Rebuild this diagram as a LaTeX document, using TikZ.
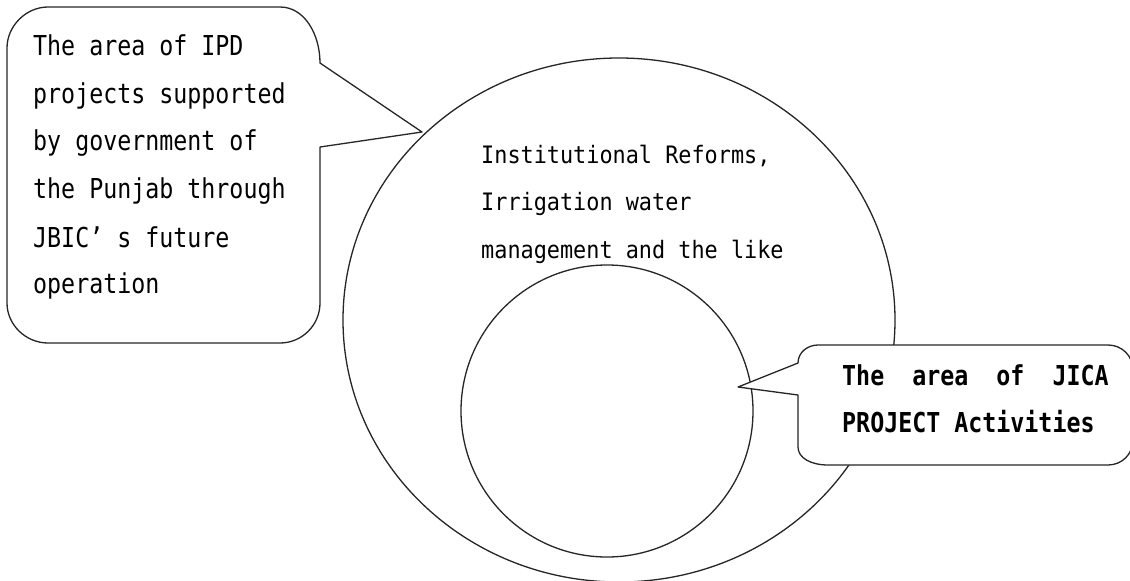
\documentclass[tikz,border=0pt]{standalone}
\usepackage{fontspec}
\usetikzlibrary{shapes.geometric}
\newfontfamily\gfont[FakeStretch=0.85]{DejaVu Sans Mono}
\newfontfamily\mfont[FakeStretch=0.91]{DejaVu Sans Mono}
\begin{document}
\begin{tikzpicture}[x=1pt,y=-1pt,
  shapeline/.style={draw=black!85, line width=1.3pt, line join=round},
  calltext/.style={anchor=base west, inner sep=0pt, font=\gfont\fontsize{27.4}{30}\selectfont},
  jicatext/.style={anchor=base west, inner sep=0pt, font=\gfont\bfseries\fontsize{27.4}{30}\selectfont},
  midtext/.style={anchor=base west, inner sep=0pt, font=\mfont\fontsize{24}{28}\selectfont}]
\useasboundingbox (0,0) rectangle (1130,581);
\fill[white] (0,0) rectangle (1130,581);
% circles
\node[shapeline, ellipse, minimum width=552pt, minimum height=524pt, inner sep=0pt] (big) at (619,320) {};
\node[shapeline, circle, minimum size=292pt, inner sep=0pt] (inner) at (607,411) {};
% left callout
\draw[shapeline, fill=white] (48,7) -- (280,7) .. controls (305,7) and (320,35) .. (320,63)
  -- (422,132) -- (320,147) -- (320,303) .. controls (320,325) and (302,343) .. (280,343)
  -- (48,343) .. controls (26,343) and (7,325) .. (7,303) -- (7,48) .. controls (7,26) and (26,7) .. (48,7) -- cycle;
% JICA callout
\draw[shapeline, fill=white] (818,345) -- (1108,345) .. controls (1122,345) and (1133,356) .. (1133,370)
  -- (1133,440) .. controls (1133,454) and (1122,465) .. (1108,465) -- (828,465)
  .. controls (811,465) and (798,458) .. (798,447) -- (798,395) -- (738,387) -- (798,363)
  .. controls (798,352) and (808,345) .. (818,345) -- cycle;
% texts
\node[calltext] (la) at (33,55) {The area of IPD};
\node[calltext] (lb) at (33,103) {projects supported};
\node[calltext] (lc) at (33,150) {by government of};
\node[calltext] (ld) at (33,198) {the Punjab through};
\node[calltext] (le) at (33,247) {JBIC’ s future};
\node[calltext] (lf) at (33,293) {operation};
\node[midtext] (ma) at (481,163) {Institutional Reforms,};
\node[midtext] (mb) at (481,210) {Irrigation water};
\node[midtext] (mc) at (481,258) {management and the like};
\node[jicatext] (ja) at (842,385) {The\ \ area\ \ of\ \ JICA};
\node[jicatext] (jb) at (842,432) {PROJECT Activities};
\end{tikzpicture}
\end{document}
